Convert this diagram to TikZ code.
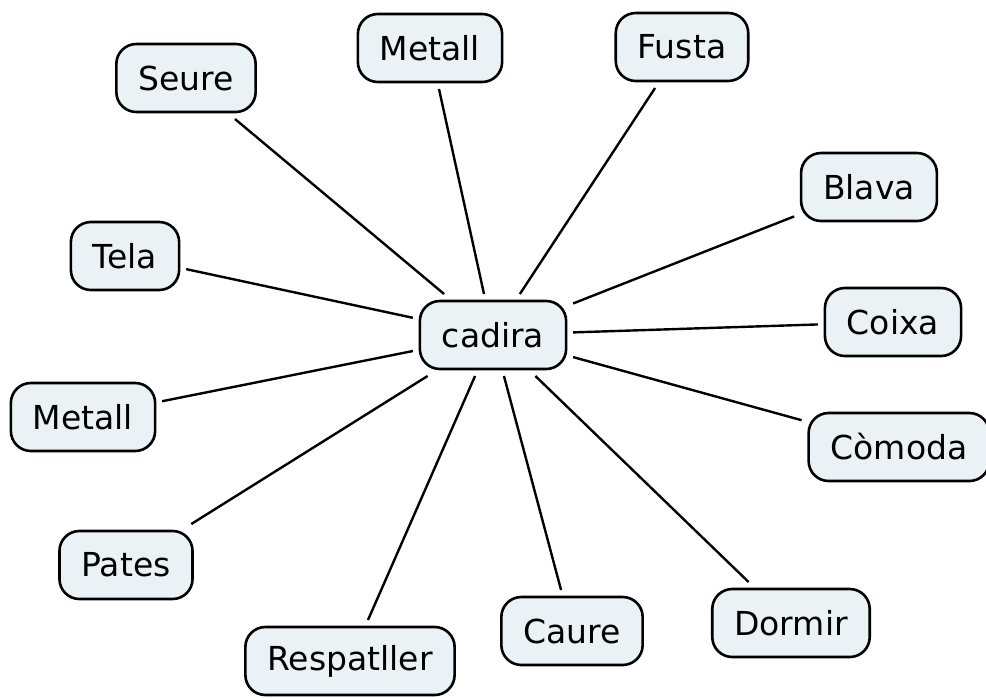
\documentclass[tikz,border=0pt]{standalone}
\usepackage{fontspec}
\setmainfont{DejaVu Sans}
\usetikzlibrary{positioning}
\definecolor{conceptfill}{RGB}{234,242,246}

\begin{document}
\begin{tikzpicture}[x=0.5pt, y=-0.5pt,
    concept/.style={draw, line width=1.3pt, rounded corners=10pt, fill=conceptfill,
        inner xsep=11pt, minimum height=34pt, outer sep=3.5pt,
        font=\fontsize{16.5}{19}\selectfont},
    link/.style={line width=1.2pt}]
\useasboundingbox (0,0) rectangle (986,697);

% Central concept
\node[concept] (cadira) at (493,335) {cadira};

% Top row
\node[concept] (seure)   at (186,78)  {Seure};
\node[concept] (metallA) at (430,48)  {Metall};
\node[concept] (fusta)   at (682,47)  {Fusta};

% Right side
\node[concept] (blava)   at (869,187) {Blava};
\node[concept] (coixa)   at (893,322) {Coixa};
\node[concept] (comoda)  at (899,447) {Còmoda};
\node[concept] (dormir)  at (791,623) {Dormir};

% Bottom
\node[concept] (caure)      at (572,631) {Caure};
\node[concept] (respatller) at (350,661) {Respatller};

% Left side
\node[concept] (pates)   at (126,565) {Pates};
\node[concept] (metallB) at (83,417)  {Metall};
\node[concept] (tela)    at (125,256) {Tela};

% Links
\foreach \n in {seure,metallA,fusta,blava,coixa,comoda,dormir,caure,respatller,pates,metallB,tela}
    \draw[link] (cadira) -- (\n);
\end{tikzpicture}
\end{document}
